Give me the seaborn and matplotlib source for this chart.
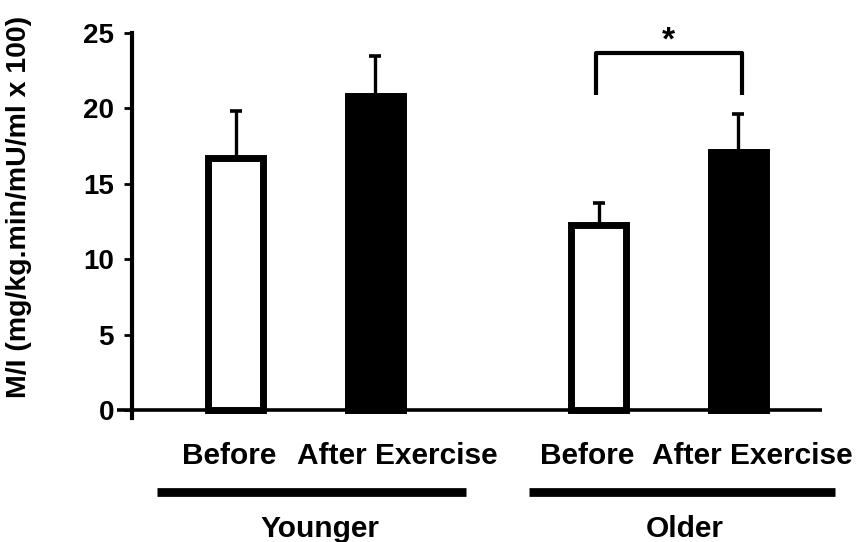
import numpy as np
import pandas as pd
import seaborn as sns
import matplotlib.pyplot as plt
from matplotlib.lines import Line2D
from matplotlib.transforms import blended_transform_factory

# Insulin sensitivity (M/I) before and after exercise, by age group
groups = ["Younger", "Younger", "Older", "Older"]
conditions = ["Before", "After Exercise", "Before", "After Exercise"]
values = [16.7, 20.8, 12.3, 17.1]
errors = [3.1, 2.7, 1.4, 2.5]
positions = [0.0, 1.0, 2.6, 3.6]
yticks = [0, 5, 10, 15, 20, 25]

# horizontal placement of the condition and group captions (data units)
condition_label_x = [-0.05, 1.16, 2.52, 3.70]
group_names = ["Younger", "Older"]
group_label_x = [0.60, 3.22]
group_line_x = [(-0.566, 1.649), (2.10, 4.294)]

df = pd.DataFrame({"group": groups, "condition": conditions,
                   "value": values, "pos": positions})

sns.set_theme(style="ticks")
plt.rcParams["font.family"] = ["Liberation Sans", "DejaVu Sans"]
plt.rcParams["font.weight"] = "bold"

fig = plt.figure(figsize=(8.6, 5.42), dpi=100)
ax = fig.add_axes([0.1360, 0.2297, 0.8198, 0.7094])

sns.barplot(data=df, x="pos", y="value", hue="condition",
            palette={"Before": "white", "After Exercise": "black"},
            native_scale=True, dodge=False, width=0.394,
            edgecolor="black", linewidth=5, errorbar=None,
            legend=False, ax=ax, zorder=3)

# upper-only error bars
ax.errorbar(positions, values, yerr=[np.zeros(len(values)), errors],
            fmt="none", ecolor="black", elinewidth=2.4,
            capsize=4.6, capthick=2.6, zorder=2)

ax.set_xlim(-0.853, 4.201)
ax.set_ylim(-0.5, 25)
ax.set_yticks(yticks)
ax.set_yticklabels([str(t) for t in yticks])
ax.set_xticks([])
ax.set_xlabel("")
ax.set_ylabel("")

for side in ["top", "right", "bottom"]:
    ax.spines[side].set_visible(False)
ax.spines["left"].set_position(("axes", 0.0213))
ax.spines["left"].set_linewidth(3)
ax.spines["left"].set_color("black")
ax.tick_params(axis="y", direction="out", length=6, width=2,
               color="black", pad=7, labelcolor="black", labelsize=20)
for lab in ax.get_yticklabels():
    lab.set_fontweight("bold")
ax.axhline(0, color="black", lw=2.6, zorder=1)

# significance bracket between older before/after
by = [20.9, 23.7]
bx0, bx1 = positions[2] - 0.02, positions[3] + 0.027
ax.plot([bx0, bx0, bx1, bx1], [by[0], by[1], by[1], by[0]],
        color="black", lw=3, solid_capstyle="butt", clip_on=False)
ax.text((bx0 + bx1) / 2, 23.45, "*", ha="center", va="bottom",
        fontsize=24, fontweight="bold", color="black")

fig.text(0.022, 1 - 207 / 542, "M/I (mg/kg.min/mU/ml x 100)",
         rotation=90, ha="center", va="center",
         fontsize=20.5, fontweight="bold", color="black")

tr = blended_transform_factory(ax.transData, fig.transFigure)
for x, lab in zip(condition_label_x, conditions):
    ax.text(x, 1 - 464 / 542, lab, transform=tr, ha="center",
            va="baseline", fontsize=21.5, fontweight="bold",
            color="black", clip_on=False)

for (x0, x1), x, name in zip(group_line_x, group_label_x, group_names):
    fig.add_artist(Line2D([x0, x1], [1 - 492 / 542] * 2, transform=tr,
                          color="black", lw=6.3, solid_capstyle="butt"))
    ax.text(x, 1 - 537 / 542, name, transform=tr, ha="center",
            va="baseline", fontsize=21.5, fontweight="bold",
            color="black", clip_on=False)

fig.savefig("out.png", dpi=100, facecolor="white")
